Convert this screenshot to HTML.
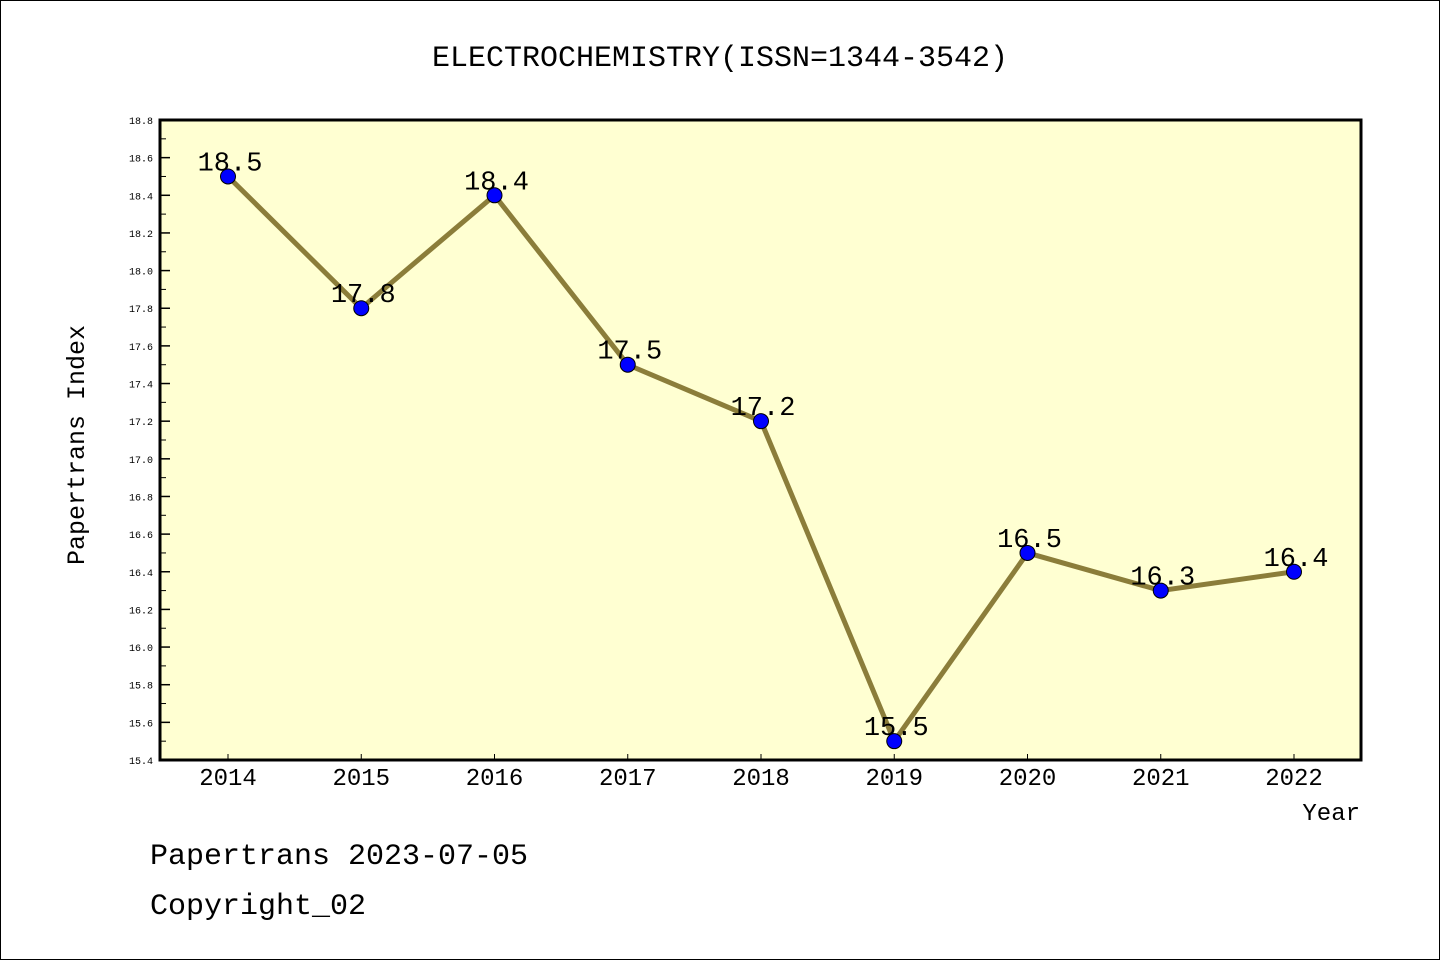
<!DOCTYPE html>
<html><head><meta charset="utf-8"><style>
body{margin:0;background:#fff;}
svg{display:block;font-family:"Liberation Mono",monospace;}
</style></head><body>
<svg id="c" width="1440" height="960">
<rect x="0.5" y="0.5" width="1439" height="959" fill="#fff" stroke="#000"/>
<text x="720" y="66" font-size="30" text-anchor="middle">ELECTROCHEMISTRY(ISSN=1344-3542)</text>
<rect x="160" y="120" width="1201" height="640" fill="#ffffd2"/>
<g id="g"></g>
<rect x="160" y="120" width="1201" height="640" fill="none" stroke="#000" stroke-width="3"/>
<text x="84" y="445" font-size="25" text-anchor="middle" transform="rotate(-90 84 445)">Papertrans Index</text>
<text x="1360" y="820" font-size="24" text-anchor="end">Year</text>
<text x="150" y="864" font-size="30">Papertrans 2023-07-05</text>
<text x="150" y="914" font-size="30">Copyright_02</text>
</svg>
<script>
const years=["2014","2015","2016","2017","2018","2019","2020","2021","2022"];
const values=[18.5,17.8,18.4,17.5,17.2,15.5,16.5,16.3,16.4];
const labels=["18.5","17.8","18.4","17.5","17.2","15.5","16.5","16.3","16.4"];
const yTicks=[15.4,15.6,15.8,16.0,16.2,16.4,16.6,16.8,17.0,17.2,17.4,17.6,17.8,18.0,18.2,18.4,18.6,18.8];
const NS="http://www.w3.org/2000/svg";
const g=document.getElementById('g');
const ymin=15.4,ymax=18.8;
function Y(v){return 760-(v-ymin)/(ymax-ymin)*640;}
function X(i){return 228+i*133.25;}
function el(t,a){const e=document.createElementNS(NS,t);for(const k in a)e.setAttribute(k,a[k]);g.appendChild(e);return e;}
yTicks.forEach((v,i)=>{
 const y=Y(v);
 const t=el('line',{x1:160,x2:170,y1:y,y2:y,stroke:'#000','stroke-width':1.5});
 
 
 if(i<yTicks.length-1){const m=el('line',{x1:160,x2:166,y1:Y(v+0.1),y2:Y(v+0.1),stroke:'#000','stroke-width':1});
 
 }
 const l=el('text',{x:153,y:y+4,'font-size':10,'text-anchor':'end'});l.textContent=v.toFixed(1);
 
 
});
years.forEach((yr,i)=>{
 const x=X(i);
 const t=el('line',{x1:x,x2:x,y1:760,y2:754,stroke:'#000','stroke-width':1});
 
 
 const l=el('text',{x:x,y:785,'font-size':24,'text-anchor':'middle'});l.textContent=yr;
 
 
});
const pl=el('polyline',{points:values.map((v,i)=>X(i)+','+Y(v)).join(' '),fill:'none',stroke:'#8b7d3a','stroke-width':5});


values.forEach((v,i)=>{
 const c=el('circle',{cx:X(i),cy:Y(v),r:7.5,fill:'#0000ff',stroke:'#000','stroke-width':1});
 
 
 const l=el('text',{x:X(i)+2,y:Y(v)-6,'font-size':27,'text-anchor':'middle'});l.textContent=labels[i];
 
 
});
</script>
</body></html>
